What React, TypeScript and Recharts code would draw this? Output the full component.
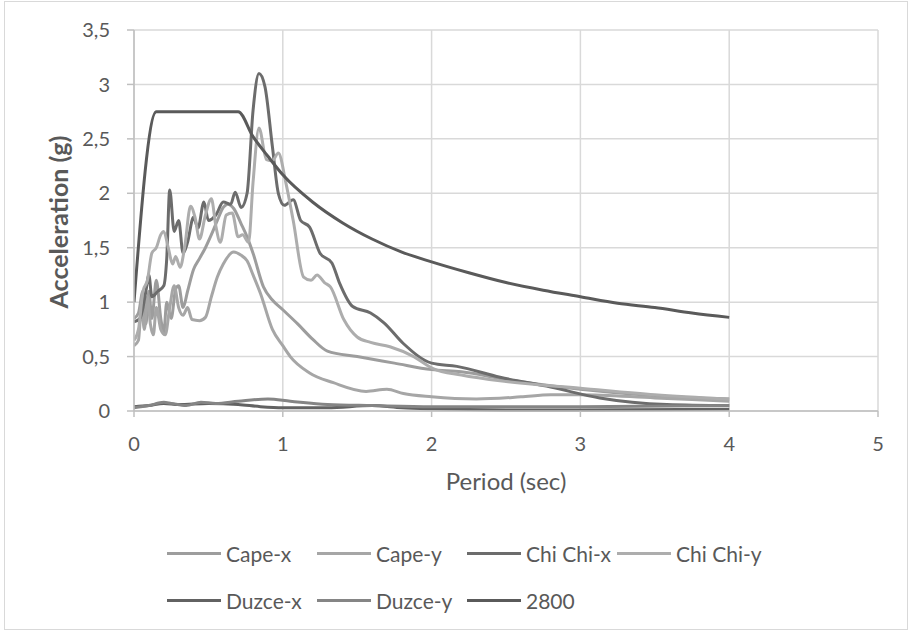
import { LineChart, Line, XAxis, YAxis, CartesianGrid, Legend } from 'recharts';

// periods (sec) and spectral accelerations (g)
const capeXT = [0, 0.03, 0.06, 0.08, 0.1, 0.12, 0.15, 0.18, 0.2, 0.22, 0.25, 0.28, 0.3, 0.33, 0.36, 0.4, 0.44, 0.48, 0.52, 0.56, 0.6, 0.63, 0.67, 0.72, 0.76, 0.8, 0.87, 0.93, 1.0, 1.1, 1.2, 1.3, 1.5, 1.75, 2.0, 2.2, 2.5, 3.0, 3.5, 4.0];
const capeXA = [0.85, 0.9, 1.1, 0.8, 1.1, 0.85, 1.2, 0.85, 0.72, 1.0, 0.85, 1.12, 1.15, 0.95, 1.1, 1.3, 1.4, 1.5, 1.62, 1.75, 1.87, 1.9, 1.86, 1.72, 1.6, 1.45, 1.14, 1.02, 0.93, 0.8, 0.66, 0.55, 0.5, 0.44, 0.38, 0.36, 0.29, 0.2, 0.14, 0.11];

const capeYT = [0, 0.03, 0.05, 0.07, 0.09, 0.11, 0.13, 0.15, 0.18, 0.21, 0.24, 0.27, 0.3, 0.33, 0.36, 0.39, 0.44, 0.48, 0.52, 0.56, 0.6, 0.67, 0.72, 0.76, 0.8, 0.85, 0.93, 1.0, 1.05, 1.18, 1.34, 1.56, 1.7, 1.81, 2.0, 2.3, 2.6, 2.8, 3.0, 3.5, 4.0];
const capeYA = [0.6, 0.65, 0.95, 0.75, 1.05, 0.8, 0.7, 0.95, 0.75, 0.7, 0.95, 1.15, 0.95, 0.88, 0.95, 0.84, 0.83, 0.86, 1.05, 1.23, 1.35, 1.46, 1.43, 1.38, 1.25, 1.08, 0.75, 0.6, 0.5, 0.35, 0.26, 0.18, 0.2, 0.16, 0.13, 0.11, 0.13, 0.15, 0.15, 0.12, 0.09];

const chiXT = [0, 0.04, 0.08, 0.1, 0.12, 0.16, 0.2, 0.22, 0.24, 0.27, 0.3, 0.33, 0.36, 0.4, 0.43, 0.47, 0.5, 0.55, 0.6, 0.65, 0.68, 0.72, 0.76, 0.8, 0.84, 0.88, 0.93, 0.97, 1.01, 1.07, 1.12, 1.18, 1.25, 1.33, 1.38, 1.47, 1.59, 1.68, 1.81, 2.0, 2.17, 2.46, 2.8, 3.13, 3.58, 4.0];
const chiXA = [0.82, 0.85, 1.1, 1.25, 1.05, 1.1, 1.15, 1.4, 2.03, 1.65, 1.75, 1.45, 1.55, 1.78, 1.68, 1.92, 1.75, 1.8, 1.92, 1.9, 2.01, 1.87, 2.0, 2.76, 3.1, 2.98, 2.43, 2.0, 1.89, 1.94, 1.75, 1.69, 1.45, 1.36, 1.18, 0.96, 0.9, 0.81, 0.62, 0.44, 0.41, 0.31, 0.22, 0.12, 0.06, 0.05];

const chiYT = [0, 0.03, 0.06, 0.09, 0.12, 0.15, 0.18, 0.2, 0.23, 0.26, 0.28, 0.31, 0.34, 0.38, 0.41, 0.44, 0.48, 0.52, 0.55, 0.58, 0.62, 0.66, 0.7, 0.73, 0.77, 0.8, 0.84, 0.89, 0.93, 0.97, 1.02, 1.07, 1.14, 1.19, 1.23, 1.28, 1.32, 1.41, 1.5, 1.59, 1.72, 1.88, 2.01, 2.2, 2.5, 3.0, 3.5, 4.0];
const chiYA = [0.65, 0.75, 1.1, 1.2, 1.45, 1.5, 1.62, 1.65, 1.5, 1.35, 1.42, 1.32, 1.5, 1.88, 1.78, 1.58, 1.8, 1.95, 1.7, 1.55, 1.8, 1.82, 1.6, 1.62, 1.55, 2.1, 2.6, 2.31, 2.3, 2.37, 2.1, 1.75, 1.23, 1.2, 1.25, 1.18, 1.14, 0.84, 0.68, 0.63, 0.59, 0.5, 0.39, 0.33, 0.27, 0.21, 0.15, 0.11];

const duzceXT = [0, 0.1, 0.2, 0.3, 0.5, 0.7, 0.85, 1.0, 1.3, 1.6, 1.8, 2.0, 2.5, 3.0, 4.0];
const duzceXA = [0.04, 0.05, 0.07, 0.06, 0.07, 0.06, 0.04, 0.03, 0.03, 0.05, 0.03, 0.02, 0.01, 0.01, 0.015];

const duzceYT = [0, 0.1, 0.2, 0.25, 0.35, 0.45, 0.55, 0.7, 0.9, 1.05, 1.3, 1.6, 2.0, 3.0, 4.0];
const duzceYA = [0.03, 0.05, 0.08, 0.07, 0.05, 0.08, 0.07, 0.09, 0.11, 0.09, 0.06, 0.05, 0.04, 0.04, 0.05];

const codeT = [0, 0.15, 0.7, 0.8, 0.9, 1.0, 1.2, 1.4, 1.6, 1.8, 2.0, 2.25, 2.5, 2.75, 3.0, 3.25, 3.5, 3.75, 4.0];
const codeA = [1.0, 2.75, 2.75, 2.52, 2.34, 2.17, 1.92, 1.73, 1.58, 1.46, 1.37, 1.27, 1.18, 1.11, 1.05, 0.99, 0.95, 0.9, 0.86];

const xTicks = [0, 1, 2, 3, 4, 5];
const yTicks = [0, 0.5, 1, 1.5, 2, 2.5, 3, 3.5];

const toPoints = (t: number[], a: number[]) => t.map((x, i) => ({ t: x, a: a[i] }));

const SERIES = [
  { name: 'Cape-x', color: '#9d9d9d', data: toPoints(capeXT, capeXA) },
  { name: 'Cape-y', color: '#a6a6a6', data: toPoints(capeYT, capeYA) },
  { name: 'Chi Chi-x', color: '#6c6c6c', data: toPoints(chiXT, chiXA) },
  { name: 'Chi Chi-y', color: '#adadad', data: toPoints(chiYT, chiYA) },
  { name: 'Duzce-x', color: '#626262', data: toPoints(duzceXT, duzceXA) },
  { name: 'Duzce-y', color: '#858585', data: toPoints(duzceYT, duzceYA) },
  { name: '2800', color: '#5a5a5a', data: toPoints(codeT, codeA) },
];

const FONT = 'Lato, "Open Sans", sans-serif';
const TEXT = '#595959';

function renderLegend() {
  return (
    <div style={{ width: 912, height: 100, paddingTop: 7, paddingLeft: 167, boxSizing: 'border-box', display: 'flex', flexWrap: 'wrap', fontFamily: FONT }}>
      {SERIES.map(s => (
        <div key={s.name} style={{ width: 150, height: 45, display: 'flex', alignItems: 'center', flexShrink: 0 }}>
          <span style={{ width: 54, height: 3, background: s.color, marginRight: 5, flexShrink: 0 }} />
          <span style={{ fontSize: 21, color: TEXT, whiteSpace: 'nowrap' }}>{s.name}</span>
        </div>
      ))}
    </div>
  );
}

function YTitle() {
  return (
    <text x={58} y={222} transform="rotate(-90 58 222)" textAnchor="middle" dominantBaseline="central"
      style={{ fontFamily: FONT, fontSize: 25, fontWeight: 700, fill: TEXT }}>
      Acceleration (g)
    </text>
  );
}

export default function App() {
  return (
    <div style={{ position: 'absolute', left: 0, top: 0, width: 912, height: 634, background: '#fff' }}>
      <div style={{ position: 'absolute', left: 4, top: 1, width: 904, height: 629, border: '1px solid #d9d9d9', boxSizing: 'border-box' }} />
      <LineChart width={912} height={634} margin={{ top: 30, right: 34, left: 0, bottom: 10 }} style={{ fontFamily: FONT }}>
        <CartesianGrid stroke="#d9d9d9" strokeWidth={1.5} />
        <XAxis dataKey="t" type="number" domain={[0, 5]} ticks={xTicks} height={113} allowDataOverflow
          stroke="#bfbfbf" strokeWidth={1.5} tickSize={6} tickMargin={20}
          tick={{ fill: TEXT, fontSize: 20 }}
          label={{ value: 'Period (sec)', position: 'insideBottom', offset: 34, fill: TEXT, fontSize: 24 }} />
        <YAxis type="number" domain={[0, 3.5]} ticks={yTicks} width={134}
          stroke="#bfbfbf" strokeWidth={1.5} tickSize={7} tickMargin={17}
          tick={{ fill: TEXT, fontSize: 20 }}
          tickFormatter={(v: number) => String(v).replace('.', ',')}
          label={<YTitle />} />
        <Legend verticalAlign="bottom" content={renderLegend} wrapperStyle={{ left: 0, width: 912 }} />
        {SERIES.map(s => (
          <Line key={s.name} data={s.data} dataKey="a" name={s.name} type="monotone"
            stroke={s.color} strokeWidth={3} dot={false} activeDot={false}
            isAnimationActive={false} />
        ))}
      </LineChart>
    </div>
  );
}
